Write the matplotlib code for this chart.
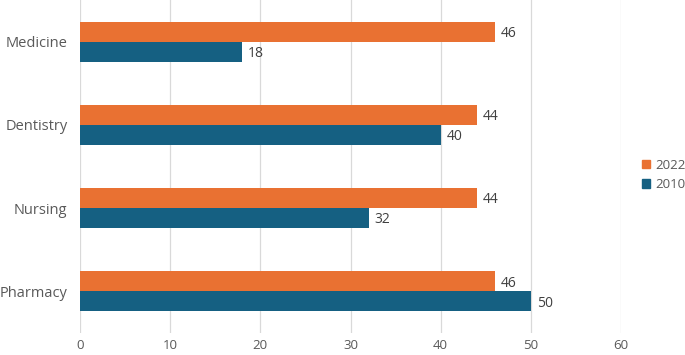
import numpy as np
import matplotlib.pyplot as plt
from matplotlib.patches import Patch

categories = ['Medicine', 'Dentistry', 'Nursing', 'Pharmacy']
vals_2022 = [46, 44, 44, 46]
vals_2010 = [18, 40, 32, 50]

c_2022 = '#E97132'
c_2010 = '#156082'
txt = '#595959'

plt.rcParams['font.family'] = ['Open Sans', 'DejaVu Sans']

fig = plt.figure(figsize=(6.85, 3.55), dpi=100)
ax = fig.add_axes([80 / 685, 22 / 355, 541 / 685, 333 / 355])

y = np.arange(len(categories))
h = 0.24
b1 = ax.barh(y - h / 2, vals_2022, height=h, color=c_2022, zorder=2)
b2 = ax.barh(y + h / 2, vals_2010, height=h, color=c_2010, zorder=2)

# value labels just past the bar ends
for bars, vals in ((b1, vals_2022), (b2, vals_2010)):
    for r, v in zip(bars, vals):
        ax.text(v + 0.65, r.get_y() + r.get_height() / 2 + 0.02, str(v),
                va='center', ha='left', fontsize=10, color='#404040')

ax.set_xlim(0, 60)
ax.set_ylim(3.5, -0.5)
ax.set_xticks(range(0, 61, 10))
ax.set_yticks(y)
ax.set_yticklabels(categories, fontsize=10.5, color=txt)
ax.tick_params(axis='x', labelsize=9.5, colors=txt, length=0, pad=4)
ax.tick_params(axis='y', length=0, pad=9)
ax.grid(axis='x', color='#d9d9d9', lw=0.9, zorder=0)
for s in ax.spines.values():
    s.set_visible(False)

handles = [Patch(color=c_2022, label='2022'), Patch(color=c_2010, label='2010')]
fig.legend(handles=handles, loc='center left', bbox_to_anchor=(642 / 685, 0.507),
           frameon=False, fontsize=9.5, handlelength=0.6, handleheight=0.6,
           handletextpad=0.4, labelspacing=0.5, labelcolor=txt,
           borderpad=0, borderaxespad=0)

fig.savefig('out.png', dpi=100)
